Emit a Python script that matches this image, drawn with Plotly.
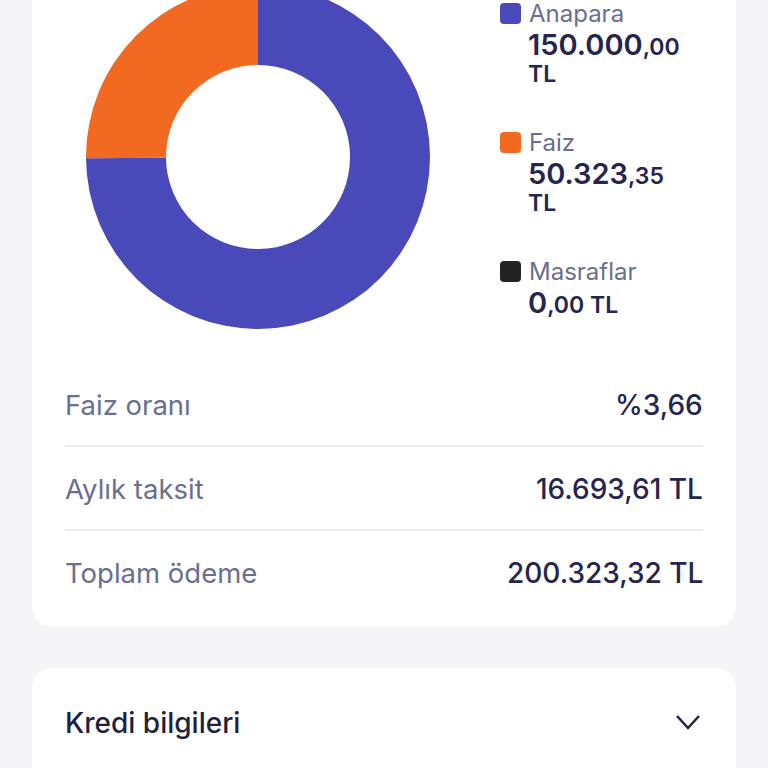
import plotly.graph_objects as go

# ---------------- data ----------------
labels = ["Anapara", "Faiz", "Masraflar"]
values = [150000.00, 50323.35, 0.00]
slice_colors = ["#4949b9", "#f26922", "#232323"]

row_labels = ["Faiz oranı", "Aylık taksit", "Toplam ödeme"]
row_values = ["%3,66", "16.693,61 TL", "200.323,32 TL"]

section_title = "Kredi bilgileri"

# ---------------- geometry (pixels) ----------------
W, H_VIEW, OFF = 768, 768, 16
H = H_VIEW + OFF

BG = "#f5f5f8"
CARD = "#ffffff"
GRAY = "#6c6e8f"
DARK = "#25254d"
FONT = "Inter"


def tr_parts(v):
    s = f"{v:,.2f}"
    whole, dec = s.split(".")
    return whole.replace(",", "."), dec


def rrect(x0, y0, x1, y1, r):
    return (f"M {x0+r} {y0} L {x1-r} {y0} Q {x1} {y0} {x1} {y0+r} "
            f"L {x1} {y1-r} Q {x1} {y1} {x1-r} {y1} L {x0+r} {y1} "
            f"Q {x0} {y1} {x0} {y1-r} L {x0} {y0+r} Q {x0} {y0} {x0+r} {y0} Z")


fig = go.Figure()

# donut
cx, cy, R = 258, 157, 172
dom_x = [(cx - R) / W, (cx + R) / W]
dom_y = [1 - (cy + R + OFF) / H, 1 - (cy - R + OFF) / H]
fig.add_trace(go.Pie(
    labels=labels, values=values, hole=0.535, sort=False,
    direction="clockwise", rotation=0,
    marker=dict(colors=slice_colors, line=dict(width=0)),
    textinfo="none", hoverinfo="label+value", showlegend=False,
    domain=dict(x=dom_x, y=dom_y),
))

shapes = []
annotations = []


def ann(x, y, text, xanchor, size, color, weight=400):
    annotations.append(dict(x=x, y=y, text=text, xanchor=xanchor, yanchor="middle",
                            showarrow=False, borderpad=0,
                            font=dict(family=FONT, size=size, color=color, weight=weight)))


# cards
shapes.append(dict(type="path", path=rrect(32, -60, 736, 627, 24), xref="x", yref="y",
                   fillcolor=CARD, line=dict(width=0), layer="below"))
shapes.append(dict(type="path", path=rrect(32, 668, 736, 820, 24), xref="x", yref="y",
                   fillcolor=CARD, line=dict(width=0), layer="below"))

# custom legend
leg_y = [13, 142, 271]
for lab, val, col, y in zip(labels, values, slice_colors, leg_y):
    shapes.append(dict(type="path", path=rrect(500, y - 10, 521, y + 11, 4), xref="x", yref="y",
                       fillcolor=col, line=dict(width=0), layer="above"))
    ann(528, y, lab, "left", 24, GRAY)
    whole, dec = tr_parts(val)
    if len(whole) > 2:
        ann(527, y + 31, f"{whole}<span style='font-size:23px'>,{dec}</span>", "left", 29, DARK, 600)
        ann(527, y + 61, "TL", "left", 23, DARK, 600)
    else:
        ann(527, y + 31, f"{whole}<span style='font-size:23px'>,{dec} TL</span>", "left", 29, DARK, 600)

# rows
row_y = [405, 489, 573]
for i, (lab, val, y) in enumerate(zip(row_labels, row_values, row_y)):
    ann(64, y, lab, "left", 27.5, GRAY)
    ann(704, y, val, "right", 28, DARK, 500)
    if i < len(row_y) - 1:
        shapes.append(dict(type="line", x0=65, x1=703, y0=y + 41, y1=y + 41, xref="x", yref="y",
                           line=dict(color="#e6e6eb", width=1.5), layer="above"))

# section title + chevron
ann(64, 723, section_title, "left", 28, "#1f1f40", 500)
shapes.append(dict(type="path", path="M 677 716 L 688 728 L 699 716", xref="x", yref="y",
                   line=dict(color="#1f1f40", width=2.5), layer="above"))

fig.update_layout(
    width=W, height=H,
    margin=dict(l=0, r=0, t=0, b=0, pad=0),
    paper_bgcolor=BG, plot_bgcolor=BG,
    xaxis=dict(range=[0, W], visible=False, fixedrange=True, domain=[0, 1]),
    yaxis=dict(range=[H_VIEW, -OFF], visible=False, fixedrange=True, domain=[0, 1]),
    shapes=shapes, annotations=annotations,
    showlegend=False,
)

post = ("document.body.style.margin='0';document.body.style.overflow='hidden';"
        "document.body.style.background='" + BG + "';"
        "var d=document.getElementById('{plot_id}');d.style.marginTop='-" + str(OFF) + "px';")

fig.write_html("out.html", config={"displayModeBar": False}, post_script=post)
